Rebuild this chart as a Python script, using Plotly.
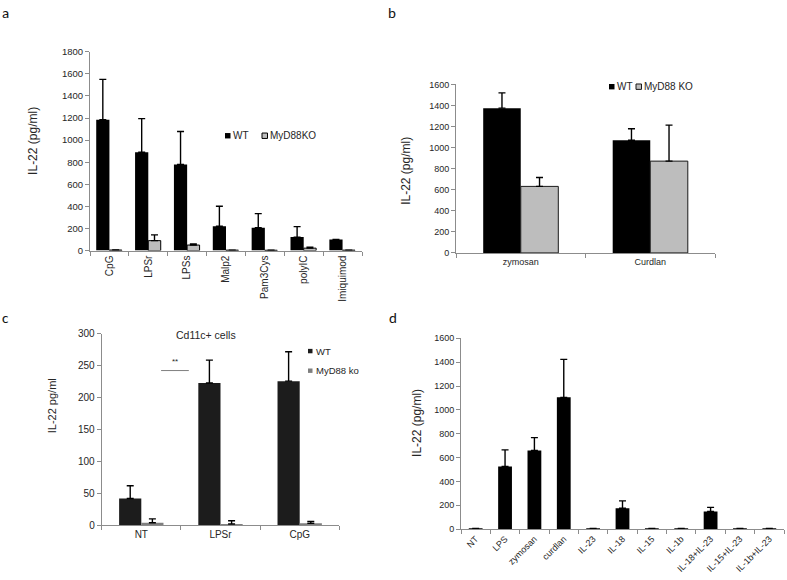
import plotly.graph_objects as go

W, H = 787, 580

# ---------------- data ----------------
a_categories = ["CpG", "LPSr", "LPSs", "Malp2", "Pam3Cys", "polyIC", "Imiquimod"]
a_series = ["WT", "MyD88KO"]
a_wt = [1185, 890, 780, 220, 207, 122, 100]
a_wt_err = [365, 305, 298, 182, 128, 95, 0]
a_ko = [5, 90, 50, 4, 3, 22, 4]
a_ko_err = [0, 52, 10, 0, 0, 8, 0]

b_categories = ["zymosan", "Curdlan"]
b_series = ["WT", "MyD88 KO"]
b_wt = [1375, 1070]
b_wt_err = [145, 110]
b_ko = [632, 872]
b_ko_err = [85, 342]

c_title = "Cd11c+ cells"
c_categories = ["NT", "LPSr", "CpG"]
c_series = ["WT", "MyD88 ko"]
c_wt = [42, 223, 226]
c_wt_err = [20, 36, 46]
c_ko = [4, 2, 3]
c_ko_err = [6, 5, 3]
c_sig_label = "**"
c_sig_level = 242.6

d_categories = ["NT", "LPS", "zymosan", "curdlan", "IL-23", "IL-18", "IL-15",
                "IL-1b", "IL-18+IL-23", "IL-15+IL-23", "IL-1b+IL-23"]
d_values = [7, 525, 660, 1105, 7, 175, 7, 7, 148, 7, 7]
d_err = [0, 140, 107, 318, 0, 62, 0, 0, 35, 0, 0]

FONT = "Liberation Sans, Arial, sans-serif"
TXT = "#262626"
AX = "#8c8c8c"


def px(x):
    return x / W


def py(y):
    return 1 - y / H


def err(arr, color="black"):
    return dict(type="data", array=arr, arrayminus=[0] * len(arr), symmetric=False,
                color=color, thickness=1.4, width=3.5)


fig = go.Figure()

# panel a
fig.add_trace(go.Bar(x=a_categories, y=a_wt, name=a_series[0], xaxis="x", yaxis="y",
                     marker=dict(color="black", line=dict(width=0)), width=0.34, offset=-0.34,
                     error_y=err(a_wt_err), showlegend=False))
fig.add_trace(go.Bar(x=a_categories, y=a_ko, name=a_series[1], xaxis="x", yaxis="y",
                     marker=dict(color="#bdbdbd", line=dict(width=1, color="black")), width=0.32, offset=0,
                     error_y=err(a_ko_err), showlegend=False))
# panel b
fig.add_trace(go.Bar(x=b_categories, y=b_wt, name=b_series[0], xaxis="x2", yaxis="y2",
                     marker=dict(color="black", line=dict(width=0)), width=0.29, offset=-0.29,
                     error_y=err(b_wt_err), showlegend=False))
fig.add_trace(go.Bar(x=b_categories, y=b_ko, name=b_series[1], xaxis="x2", yaxis="y2",
                     marker=dict(color="#bdbdbd", line=dict(width=1, color="#1a1a1a")), width=0.29, offset=0,
                     error_y=err(b_ko_err), showlegend=False))
# panel c
fig.add_trace(go.Bar(x=c_categories, y=c_wt, name=c_series[0], xaxis="x3", yaxis="y3",
                     marker=dict(color="#1c1c1c", line=dict(width=0)), width=0.28, offset=-0.28,
                     error_y=err(c_wt_err), showlegend=False))
fig.add_trace(go.Bar(x=c_categories, y=c_ko, name=c_series[1], xaxis="x3", yaxis="y3",
                     marker=dict(color="#7f7f7f", line=dict(width=0)), width=0.28, offset=0,
                     error_y=err(c_ko_err), showlegend=False))
# panel d
fig.add_trace(go.Bar(x=d_categories, y=d_values, name="IL-22", xaxis="x4", yaxis="y4",
                     marker=dict(color="black", line=dict(width=0)), width=0.47, offset=-0.235,
                     error_y=err(d_err), showlegend=False))


def xax(domain, anchor, cats, angle, size):
    return dict(domain=domain, anchor=anchor, type="category", range=[-0.5, len(cats) - 0.5],
                showline=True, linecolor=AX, linewidth=1, ticks="outside", tickson="boundaries",
                ticklen=4, tickcolor=AX, tickangle=angle, showgrid=False, zeroline=False,
                tickfont=dict(family=FONT, size=size, color=TXT), fixedrange=True)


def yax(domain, anchor, rng, dtick, size):
    return dict(domain=domain, anchor=anchor, range=rng, dtick=dtick, tick0=0,
                showline=True, linecolor=AX, linewidth=1, ticks="outside", ticklen=4,
                tickcolor=AX, showgrid=False, zeroline=False,
                tickfont=dict(family=FONT, size=size, color=TXT), fixedrange=True)


fig.update_layout(
    width=W, height=H, margin=dict(l=0, r=0, t=0, b=0),
    paper_bgcolor="white", plot_bgcolor="white",
    barmode="overlay", showlegend=False,
    font=dict(family=FONT, color=TXT),
    xaxis=xax([px(90), px(362)], "y", a_categories, -90, 10),
    yaxis=yax([py(249.3), py(46.7)], "x", [0, 1800], 200, 9.5),
    xaxis2=xax([px(456), px(715)], "y2", b_categories, 0, 9),
    yaxis2=yax([py(251.7), py(80)], "x2", [0, 1600], 200, 9),
    xaxis3=xax([px(101.7), px(339.3)], "y3", c_categories, 0, 10),
    yaxis3=yax([py(529.3), py(334.3)], "x3", [0, 300], 50, 10),
    xaxis4=xax([px(461), px(784)], "y4", d_categories, -45, 9),
    yaxis4=yax([py(533.3), py(338.7)], "x4", [0, 1600], 200, 9),
)

ann = []
shapes = []


def text(x, y, s, size, angle=0, xanchor="center", color=TXT, family=FONT):
    ann.append(dict(x=px(x), y=py(y), xref="paper", yref="paper", text=s, showarrow=False,
                    textangle=angle, xanchor=xanchor, yanchor="middle",
                    font=dict(family=family, size=size, color=color)))


def square(x0, y0, s, fill, line_color=None):
    shapes.append(dict(type="rect", xref="paper", yref="paper",
                       x0=px(x0), x1=px(x0 + s), y0=py(y0 + s), y1=py(y0),
                       fillcolor=fill, line=dict(width=1 if line_color else 0,
                                                 color=line_color or fill)))


# panel letters
for lx, ly, s in [(5, 7, "a"), (392, 7, "b"), (5, 318, "c"), (393, 318, "d")]:
    text(lx, ly, s, 15, family="Carlito, Open Sans, sans-serif", color="#111")

# y axis titles
text(33.5, 138, "IL-22 (pg/ml)", 12, -90)
text(406, 168, "IL-22 (pg/ml)", 12, -90)
text(52, 408, "IL-22 pg/ml", 11, -90)
text(417, 425, "IL-22 (pg/ml)", 12, -90)

# legend a
square(225, 129.5, 5.5, "black")
text(231, 132.5, a_series[0], 10, xanchor="left")
square(262, 129.5, 5.5, "#bdbdbd", "black")
text(268, 132.5, a_series[1], 10, xanchor="left")

# legend b
square(609, 79.5, 5.5, "black")
text(615, 82.5, b_series[0], 10, xanchor="left")
square(636, 79.5, 5.5, "#bdbdbd", "#1a1a1a")
text(642, 82.5, b_series[1], 10, xanchor="left")

# panel c title, legend, significance
text(206, 335, c_title, 10.5)
square(308, 349.5, 4.5, "#1c1c1c")
text(313.5, 351.7, c_series[0], 9.5, xanchor="left")
square(308, 369.5, 4.5, "#7f7f7f")
text(313.5, 371.7, c_series[1], 9.5, xanchor="left")

ann.append(dict(x=0.43, y=c_sig_level, xref="x3", yref="y3", text=c_sig_label, showarrow=False,
                yanchor="bottom", yshift=3, font=dict(family=FONT, size=8, color=TXT)))
shapes.append(dict(type="line", xref="x3", yref="y3", x0=0.25, x1=0.6,
                   y0=c_sig_level, y1=c_sig_level, line=dict(color="#7f7f7f", width=1)))

fig.update_layout(annotations=ann, shapes=shapes)

fig.write_html("out.html", config={"displayModeBar": False},
               post_script="document.body.style.margin='0';document.body.style.padding='0';")
